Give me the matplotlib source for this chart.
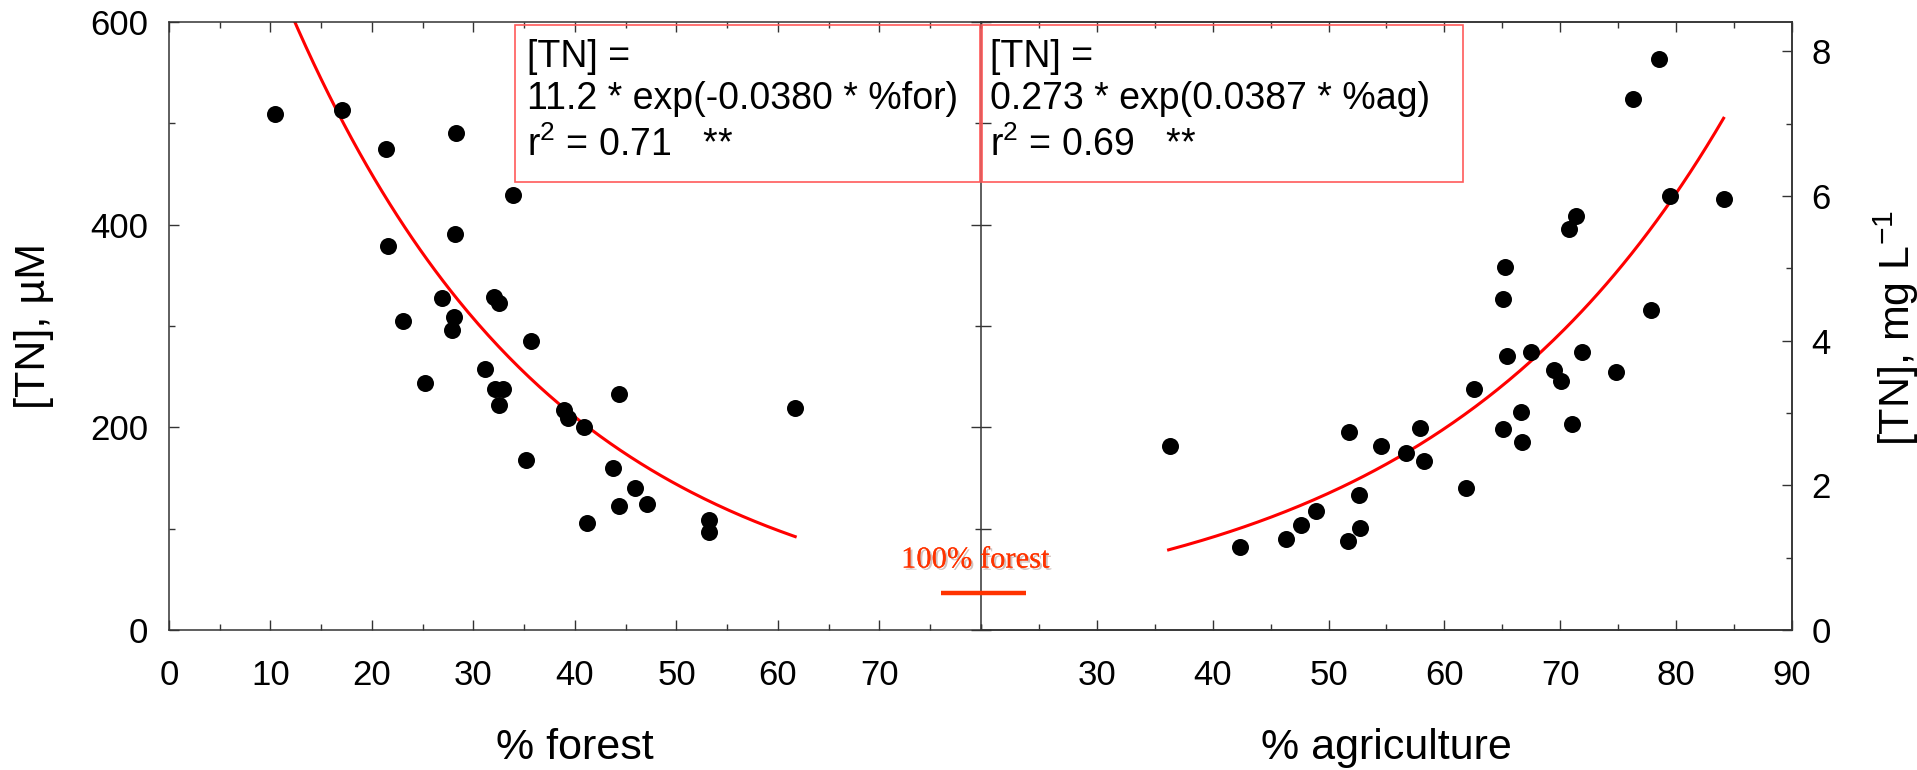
import numpy as np
import matplotlib
matplotlib.use("Agg")
import matplotlib.pyplot as plt
from matplotlib.patches import Rectangle
from matplotlib.ticker import MultipleLocator
import matplotlib.patheffects as pe

plt.rcParams['font.family'] = ['Liberation Sans', 'DejaVu Sans']
plt.rcParams['mathtext.fontset'] = 'custom'
plt.rcParams['mathtext.rm'] = 'Liberation Sans'
plt.rcParams['mathtext.it'] = 'Liberation Sans:italic'

# % forest vs [TN] (uM)
forest_pct = [10.4, 17.0, 21.4, 28.3, 21.6, 28.2, 33.9, 26.9, 32.0, 32.5, 23.1,
              28.1, 27.9, 35.7, 31.1, 25.2, 32.1, 32.9, 32.5, 38.9, 39.3, 40.9,
              44.3, 61.7, 35.2, 43.7, 45.9, 44.3, 47.1, 41.2, 53.2, 53.2]
forest_tn = [509, 513, 475, 490, 379, 391, 429, 328, 329, 323, 305,
             309, 296, 285, 258, 244, 238, 238, 222, 217, 209, 200,
             233, 219, 168, 160, 140, 122, 124, 106, 109, 97]

# % agriculture vs [TN] (uM)
ag_pct = [36.3, 42.4, 46.3, 47.6, 48.9, 51.8, 51.7, 52.7, 52.6, 54.5, 56.7,
          57.9, 58.2, 61.9, 62.6, 78.5, 76.3, 79.5, 84.1, 71.4, 70.8, 65.2,
          65.1, 77.8, 65.4, 67.5, 71.9, 69.5, 70.1, 74.8, 66.6, 65.1, 66.7, 71.0]
ag_tn = [182, 82, 90, 104, 117, 195, 88, 101, 133, 182, 175,
         199, 167, 140, 238, 563, 524, 428, 425, 409, 396, 358,
         327, 316, 270, 274, 274, 257, 246, 255, 215, 198, 186, 203]

# exponential fits as drawn (forest in uM, agriculture in mg/L)
for_fit_a, for_fit_k = 961.0, -0.0380
ag_fit_a, ag_fit_k = 0.273, 0.0387
for_fit_range = (12.0, 61.7)
ag_fit_range = (36.2, 84.1)

UM_TO_MGL = 14.007 / 1000.0

fig = plt.figure(figsize=(19.17, 7.70), dpi=100)
ax1 = fig.add_axes([0.08816, 0.18182, 0.42354, 0.78961])
ax2 = fig.add_axes([0.5117, 0.18182, 0.42306, 0.78961])
ax2.patch.set_visible(False)

spine_col = '#333333'
for ax in (ax1, ax2):
    for s in ax.spines.values():
        s.set_color(spine_col)
        s.set_linewidth(1.1)
    ax.tick_params(which='both', direction='in', colors=spine_col,
                   labelcolor='black', labelsize=25, width=1.0)
    ax.tick_params(which='major', length=7.5)
    ax.tick_params(which='minor', length=4.5)
    ax.xaxis.set_minor_locator(MultipleLocator(5))
    ax.tick_params(axis='x', which='both', top=True, bottom=True, pad=21)

# left panel: forest
ax1.set_xlim(0, 80)
ax1.set_ylim(0, 600)
ax1.set_xticks(range(0, 80, 10))
ax1.set_yticks([0, 200, 400, 600])
ax1.yaxis.set_minor_locator(MultipleLocator(100))
ax1.tick_params(axis='y', which='both', left=True, right=True, pad=15)

xf = np.linspace(*for_fit_range, 200)
ax1.plot(xf, for_fit_a * np.exp(for_fit_k * xf), color='#ff0000', lw=2.2, zorder=2)
ax1.scatter(forest_pct, forest_tn, s=150, color='black', zorder=3, linewidths=0)

# right panel: agriculture
ax2.set_xlim(20, 90)
ax2.set_ylim(0, 600)
ax2.set_xticks(range(30, 100, 10))
ax2.tick_params(axis='y', which='both', left=False, right=False,
                labelleft=False, labelright=False)
ax2.spines['left'].set_visible(False)

xa = np.linspace(*ag_fit_range, 200)
ax2.plot(xa, ag_fit_a * np.exp(ag_fit_k * xa) / UM_TO_MGL, color='#ff0000', lw=2.2, zorder=2)
ax2.scatter(ag_pct, ag_tn, s=150, color='black', zorder=3, linewidths=0)

ax3 = ax2.twinx()
ax3.patch.set_visible(False)
ax3.set_ylim(0, 600 * UM_TO_MGL)
ax3.set_yticks([0, 2, 4, 6, 8])
ax3.yaxis.set_minor_locator(MultipleLocator(1))
ax3.tick_params(which='both', direction='in', colors=spine_col, labelcolor='black',
                labelsize=25, width=1.0, pad=14)
ax3.tick_params(which='major', length=7.5)
ax3.tick_params(which='minor', length=4.5)
for s in ax3.spines.values():
    s.set_color(spine_col)
    s.set_linewidth(1.1)
ax3.spines['left'].set_visible(False)

# axis labels
ax1.set_xlabel('% forest', fontsize=31)
ax1.xaxis.set_label_coords(0.5, -0.161)
ax2.set_xlabel('% agriculture', fontsize=31)
ax2.xaxis.set_label_coords(0.5, -0.161)
fig.text(34 / 1917, 1 - 326 / 770, '[TN], \u00b5M', rotation=90,
         ha='center', va='center', fontsize=31)
fig.text(1896 / 1917, 1 - 328 / 770, '[TN], mg L$^{-1}$', rotation=90,
         ha='center', va='center', fontsize=31)

# equation boxes
box_col = '#ff5a5a'
ax1.add_patch(Rectangle((0.426, 0.737), 0.5728, 0.258, transform=ax1.transAxes,
                        fill=False, edgecolor=box_col, lw=1.2, clip_on=False, zorder=4))
ax2.add_patch(Rectangle((0.0012, 0.737), 0.5928, 0.258, transform=ax2.transAxes,
                        fill=False, edgecolor=box_col, lw=1.2, clip_on=False, zorder=4))

eq_for = ['[TN] =', '11.2 * exp(-0.0380 * %for)', 'r$^2$ = 0.71   **']
eq_ag = ['[TN] =', '0.273 * exp(0.0387 * %ag)', 'r$^2$ = 0.69   **']
line_y = [0.926, 0.857, 0.780]
for txt, y in zip(eq_for, line_y):
    ax1.text(0.441, y, txt, transform=ax1.transAxes, fontsize=27, va='baseline', ha='left')
for txt, y in zip(eq_ag, line_y):
    ax2.text(0.011, y, txt, transform=ax2.transAxes, fontsize=27, va='baseline', ha='left')

# 100% forest marker
ax1.plot([76.1, 84.4], [36.5, 36.5], color='#ff3300', lw=3.2, clip_on=False,
         solid_capstyle='butt', zorder=5)
ax1.text(79.4, 69, '100% forest', color='#ff3300', fontsize=22,
         family='Liberation Serif', ha='center', va='center', clip_on=False,
         path_effects=[pe.withSimplePatchShadow(offset=(1.5, -1.5), alpha=0.25),
                       pe.Normal()],
         zorder=5)

plt.savefig('out.png', dpi=100)
